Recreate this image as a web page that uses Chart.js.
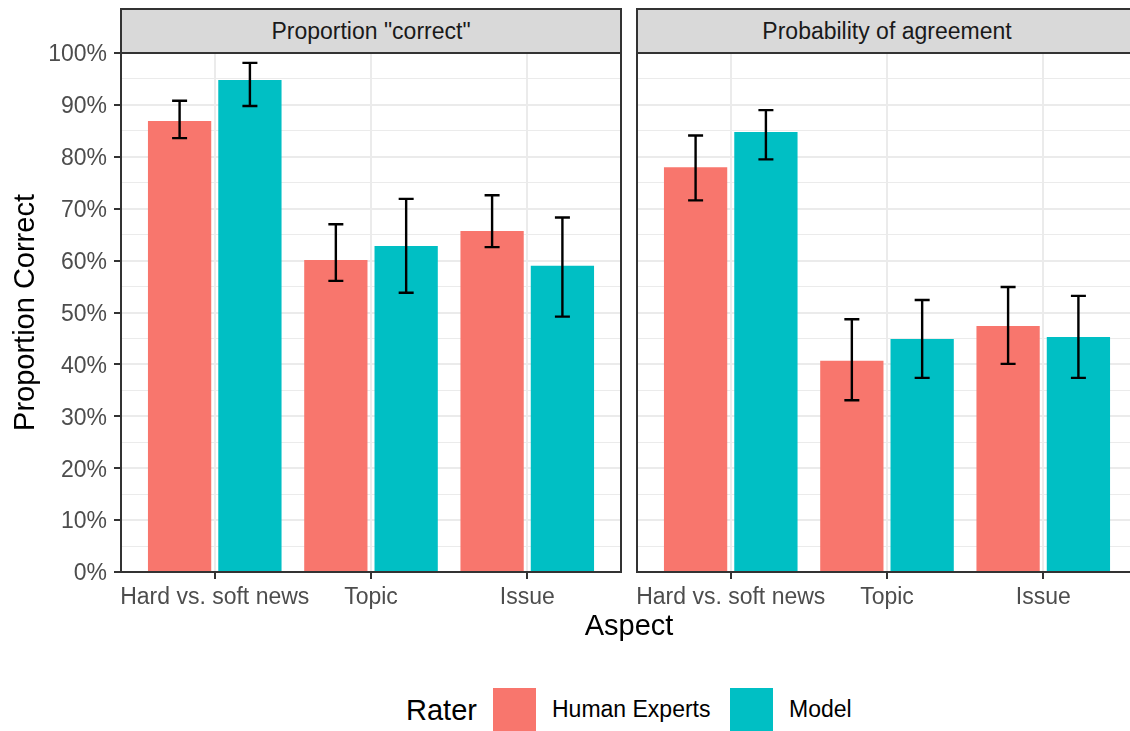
<!DOCTYPE html>
<html lang="en">
<head>
    <meta charset="UTF-8">
    <title>Proportion correct by aspect</title>
    <script src="https://cdn.jsdelivr.net/npm/chart.js"></script>
    <style>
        body {
            margin: 0;
            width: 1130px;
            height: 731px;
            overflow: hidden;
            background: #fff;
            font-family: "Liberation Sans", Arial, sans-serif;
            position: relative;
        }
        .panel { position: absolute; top: 0; height: 640px; }
        .strip {
            position: absolute;
            top: 8px;
            height: 46px;
            width: 502px;
            box-sizing: border-box;
            border: 2px solid #333;
            background: #D9D9D9;
            color: #1A1A1A;
            font-size: 23px;
            line-height: 42px;
            text-align: center;
        }
        .lbl { position: absolute; white-space: nowrap; }
        .key { position: absolute; top: 688px; width: 43px; height: 43px; }
    </style>
</head>
<body>
    <div class="panel" style="left:0; width:625px;"><canvas id="leftChart"></canvas></div>
    <div class="panel" style="left:627px; width:520px;"><canvas id="rightChart"></canvas></div>

    <div class="strip" id="strip0" style="left:120px;"></div>
    <div class="strip" id="strip1" style="left:636px;"></div>

    <div class="lbl" style="left:429px; width:400px; text-align:center; top:611px; font-size:29px; line-height:29px;">Aspect</div>

    <div class="lbl" style="left:406px; top:696px; font-size:29px; line-height:29px;">Rater</div>
    <div class="key" style="left:493px; background:#F8766D;"></div>
    <div class="lbl" id="rater0" style="left:552px; top:698px; font-size:23px; line-height:23px;"></div>
    <div class="key" style="left:730px; background:#00BFC4;"></div>
    <div class="lbl" id="rater1" style="left:789px; top:698px; font-size:23px; line-height:23px;"></div>

    <script>
        const aspects = ['Hard vs. soft news', 'Topic', 'Issue'];
        const panels = ['Proportion "correct"', 'Probability of agreement'];
        const raters = ['Human Experts', 'Model'];
        const colors = ['#F8766D', '#00BFC4'];

        const yGrid = [0, 5, 10, 15, 20, 25, 30, 35, 40, 45, 50, 55, 60, 65, 70, 75, 80, 85, 90, 95, 100];
        const yLabels = [0, 10, 20, 30, 40, 50, 60, 70, 80, 90, 100];

        // Proportion "correct"
        const correctHuman   = [86.9, 60.1, 65.7];
        const correctHumanLo = [83.6, 56.1, 62.6];
        const correctHumanHi = [90.8, 67.0, 72.6];
        const correctModel   = [94.8, 62.8, 59.0];
        const correctModelLo = [89.8, 53.8, 49.2];
        const correctModelHi = [98.1, 71.9, 68.3];

        // Probability of agreement
        const agreeHuman   = [78.0, 40.7, 47.4];
        const agreeHumanLo = [71.6, 33.1, 40.1];
        const agreeHumanHi = [84.1, 48.7, 54.9];
        const agreeModel   = [84.8, 44.9, 45.3];
        const agreeModelLo = [79.5, 37.4, 37.4];
        const agreeModelHi = [89.0, 52.4, 53.2];

        document.getElementById('strip0').textContent = panels[0];
        document.getElementById('strip1').textContent = panels[1];
        document.getElementById('rater0').textContent = raters[0];
        document.getElementById('rater1').textContent = raters[1];

        const errorBars = {
            id: 'errorBars',
            afterDatasetsDraw(chart) {
                const ctx = chart.ctx;
                const y = chart.scales.y;
                ctx.save();
                ctx.strokeStyle = '#000';
                ctx.lineWidth = 2.4;
                chart.data.datasets.forEach((ds, d) => {
                    chart.getDatasetMeta(d).data.forEach((bar, i) => {
                        const lo = y.getPixelForValue(ds.lo[i]);
                        const hi = y.getPixelForValue(ds.hi[i]);
                        ctx.beginPath();
                        ctx.moveTo(bar.x, lo); ctx.lineTo(bar.x, hi);
                        ctx.moveTo(bar.x - 7.5, lo); ctx.lineTo(bar.x + 7.5, lo);
                        ctx.moveTo(bar.x - 7.5, hi); ctx.lineTo(bar.x + 7.5, hi);
                        ctx.stroke();
                    });
                });
                ctx.restore();
            }
        };

        const panelBorder = {
            id: 'panelBorder',
            afterDraw(chart) {
                const a = chart.chartArea;
                const ctx = chart.ctx;
                ctx.save();
                ctx.strokeStyle = '#333';
                ctx.lineWidth = 2;
                ctx.strokeRect(a.left, a.top, a.right - a.left, a.bottom - a.top);
                ctx.restore();
            }
        };

        function makePanel(id, human, humanLo, humanHi, model, modelLo, modelHi, showY) {
            const series = [[human, humanLo, humanHi], [model, modelLo, modelHi]];
            new Chart(document.getElementById(id), {
                type: 'bar',
                data: {
                    datasets: series.map((s, d) => ({
                        label: raters[d],
                        data: aspects.map((a, i) => ({ x: i + 1, y: s[0][i] })),
                        lo: s[1],
                        hi: s[2],
                        backgroundColor: colors[d],
                        borderWidth: 0,
                        categoryPercentage: 0.9,
                        barPercentage: 0.9
                    }))
                },
                options: {
                    responsive: true,
                    maintainAspectRatio: false,
                    animation: false,
                    layout: { padding: showY ? { top: 53, right: 4, left: 0, bottom: 0 } : { top: 53, right: 10, left: 10, bottom: 0 } },
                    plugins: { legend: { display: false }, tooltip: { enabled: false } },
                    scales: {
                        x: {
                            type: 'linear',
                            min: 0.4,
                            max: 3.6,
                            offset: false,
                            afterBuildTicks: axis => { axis.ticks = aspects.map((a, i) => ({ value: i + 1 })); },
                            afterFit: axis => { axis.height = 68; },
                            ticks: {
                                autoSkip: false,
                                maxRotation: 0,
                                padding: 5,
                                color: '#4D4D4D',
                                font: { family: '"Liberation Sans", Arial, sans-serif', size: 23 },
                                callback: v => aspects[Math.round(v) - 1]
                            },
                            grid: { offset: false, color: '#EBEBEB', lineWidth: 2, tickLength: 7, tickColor: '#333', tickWidth: 2 },
                            border: { display: false }
                        },
                        y: {
                            min: 0,
                            max: 100,
                            afterBuildTicks: axis => { axis.ticks = yGrid.map(v => ({ value: v })); },
                            afterFit: axis => { axis.width = showY ? 121 : 0; },
                            ticks: {
                                display: showY,
                                autoSkip: false,
                                padding: 7,
                                labelOffset: 2,
                                color: '#4D4D4D',
                                font: { family: '"Liberation Sans", Arial, sans-serif', size: 23 },
                                callback: v => yLabels.includes(v) ? v + '%' : ''
                            },
                            grid: {
                                color: '#EBEBEB',
                                lineWidth: c => yLabels.includes(c.tick.value) ? 2 : 1,
                                drawTicks: showY,
                                tickLength: 7,
                                tickWidth: 2,
                                tickColor: c => yLabels.includes(c.tick.value) ? '#333' : 'rgba(0,0,0,0)'
                            },
                            border: { display: false },
                            title: {
                                display: showY,
                                text: 'Proportion Correct',
                                color: '#000',
                                padding: { top: 9, bottom: 0 },
                                font: { family: '"Liberation Sans", Arial, sans-serif', size: 29 }
                            }
                        }
                    }
                },
                plugins: [errorBars, panelBorder]
            });
        }

        makePanel('leftChart', correctHuman, correctHumanLo, correctHumanHi, correctModel, correctModelLo, correctModelHi, true);
        makePanel('rightChart', agreeHuman, agreeHumanLo, agreeHumanHi, agreeModel, agreeModelLo, agreeModelHi, false);
    </script>
</body>
</html>
